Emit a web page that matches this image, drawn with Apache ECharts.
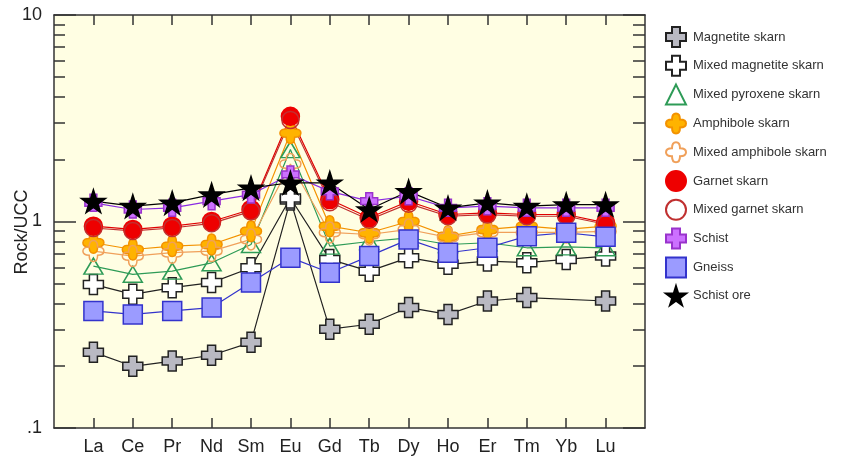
<!DOCTYPE html>
<html>
<head>
<meta charset="utf-8">
<script src="https://cdn.jsdelivr.net/npm/echarts@6/dist/echarts.min.js"></script>
<style>
html,body{margin:0;padding:0;background:#fff;}
#chart{width:846px;height:461px;}
</style>
</head>
<body>
<div id="chart"></div>
<script>
const categories = ['La','Ce','Pr','Nd','Sm','Eu','Gd','Tb','Dy','Ho','Er','Tm','Yb','Lu'];
const yMajorTicks = [0.1, 1, 10];
const yMinorTicks = [0.2,0.3,0.4,0.5,0.6,0.7,0.8,0.9,2,3,4,5,6,7,8,9];

const magnetiteSkarn      = [0.233,0.199,0.211,0.225,0.260,1.27,0.301,0.318,0.383,0.355,0.412,0.428,null,0.412];
const mixedMagnetiteSkarn = [0.496,0.444,0.478,0.506,0.597,1.30,0.655,0.575,0.668,0.620,0.643,0.632,0.655,0.680];
const mixedPyroxeneSkarn  = [0.608,0.555,0.575,0.631,0.774,2.23,0.760,0.800,0.834,0.774,0.789,0.746,0.754,0.746];
const amphiboleSkarn      = [0.789,0.732,0.760,0.774,0.898,2.68,0.949,0.882,1.000,0.849,0.915,0.949,0.915,0.949];
const mixedAmphiboleSkarn = [0.719,0.680,0.706,0.719,0.819,1.90,0.885,0.865,0.915,0.837,0.885,0.885,0.885,0.895];
const garnetSkarn         = [0.949,0.915,0.949,1.000,1.143,3.23,1.277,1.042,1.254,1.081,1.101,1.081,1.081,0.985];
const mixedGarnetSkarn    = [0.930,0.900,0.930,0.980,1.120,3.10,1.240,1.020,1.220,1.060,1.080,1.060,1.060,0.970];
const schist              = [1.231,1.143,1.165,1.254,1.350,1.69,1.400,1.254,1.325,1.165,1.186,1.165,1.165,1.165];
const gneiss              = [0.369,0.355,0.369,0.383,0.506,0.668,0.565,0.680,0.819,0.706,0.746,0.849,0.882,0.843];
const schistOre           = [1.254,1.186,1.231,1.350,1.455,1.54,1.538,1.143,1.400,1.165,1.231,1.186,1.208,1.208];

const PLUS = 'path://M30,0 H70 V30 H100 V70 H70 V100 H30 V70 H0 V30 H30 Z';
const FLOWER = 'path://M50,0 C68,0 70,18 70,30 C82,30 100,32 100,50 C100,68 82,70 70,70 C70,82 68,100 50,100 C32,100 30,82 30,70 C18,70 0,68 0,50 C0,32 18,30 30,30 C30,18 32,0 50,0 Z';
const STAR = 'path://M50,0 L61,35 L98,35 L68,57 L79,91 L50,70 L21,91 L32,57 L2,35 L39,35 Z';

const seriesDefs = [
  {name:'Magnetite skarn', values:magnetiteSkarn, symbol:PLUS, size:20, fill:'#b9b9c2', border:'#222', line:'#222'},
  {name:'Mixed magnetite skarn', values:mixedMagnetiteSkarn, symbol:PLUS, size:20, fill:'#ffffff', border:'#222', line:'#222'},
  {name:'Mixed pyroxene skarn', values:mixedPyroxeneSkarn, symbol:'triangle', size:[19,16], fill:'rgba(255,255,255,0)', border:'#2e9b57', line:'#2e9b57'},
  {name:'Amphibole skarn', values:amphiboleSkarn, symbol:FLOWER, size:21, fill:'#ffb300', border:'#f39200', line:'#f39200'},
  {name:'Mixed amphibole skarn', values:mixedAmphiboleSkarn, symbol:FLOWER, size:21, fill:'rgba(255,255,255,0)', border:'#f0a05a', line:'#f0a05a'},
  {name:'Garnet skarn', values:garnetSkarn, symbol:'circle', size:18, fill:'#ee0000', border:'#ee0000', line:'#e00000'},
  {name:'Mixed garnet skarn', values:mixedGarnetSkarn, symbol:'circle', size:17, fill:'rgba(255,255,255,0)', border:'#c03030', line:'#c03030'},
  {name:'Schist', values:schist, symbol:PLUS, size:17, fill:'#cc70ff', border:'#9933cc', line:'#8a2be2'},
  {name:'Gneiss', values:gneiss, symbol:'rect', size:19, fill:'#9b9bff', border:'#3333cc', line:'#3333cc'},
  {name:'Schist ore', values:schistOre, symbol:STAR, size:24, fill:'#000000', border:'#000000', line:'#000000'}
];

const chart = echarts.init(document.getElementById('chart'), null, {renderer:'canvas'});

const FONT = 'Liberation Sans, Arial, sans-serif';
const yBase = {type:'log', logBase:10, min:0.1, max:10, splitLine:{show:false}, minorTick:{show:false}};
const yAxes = [
  Object.assign({}, yBase, {position:'left',
    axisLine:{show:true, onZero:false, lineStyle:{color:'#333', width:1.5}},
    axisTick:{show:true, inside:true, length:22, customValues:yMajorTicks, lineStyle:{color:'#333', width:1.5}},
    axisLabel:{show:true, customValues:yMajorTicks, margin:12, color:'#222', fontSize:18, fontFamily:FONT,
      formatter:function(v){ return v < 0.5 ? '.1' : String(Math.round(v)); }}}),
  Object.assign({}, yBase, {position:'left',
    axisLine:{show:false, onZero:false},
    axisTick:{show:true, inside:true, length:11, customValues:yMinorTicks, lineStyle:{color:'#333', width:1.5}},
    axisLabel:{show:false}}),
  Object.assign({}, yBase, {position:'right',
    axisLine:{show:true, onZero:false, lineStyle:{color:'#333', width:1.5}},
    axisTick:{show:true, inside:true, length:22, customValues:yMajorTicks, lineStyle:{color:'#333', width:1.5}},
    axisLabel:{show:false}}),
  Object.assign({}, yBase, {position:'right',
    axisLine:{show:false, onZero:false},
    axisTick:{show:true, inside:true, length:12, customValues:yMinorTicks, lineStyle:{color:'#333', width:1.5}},
    axisLabel:{show:false}})
];

const catIdx = categories.map(function(c,i){return i;});
const xBase = {type:'value', min:-1, max:14, splitLine:{show:false}};
const xAxes = [
  Object.assign({}, xBase, {position:'bottom',
    axisLine:{show:true, onZero:false, lineStyle:{color:'#333', width:1.5}},
    axisTick:{show:true, inside:true, length:10, customValues:catIdx, lineStyle:{color:'#333', width:1.5}},
    axisLabel:{show:true, customValues:catIdx, margin:10, color:'#222', fontSize:18, fontFamily:FONT,
      formatter:function(v){ const i = Math.round(v); return categories[i] || ''; }}}),
  Object.assign({}, xBase, {position:'top',
    axisLine:{show:true, onZero:false, lineStyle:{color:'#333', width:1.5}},
    axisTick:{show:true, inside:true, length:10, customValues:catIdx, lineStyle:{color:'#333', width:1.5}},
    axisLabel:{show:false}})
];

const series = seriesDefs.map(function(d){
  return {
    name:d.name, type:'line', xAxisIndex:0, yAxisIndex:0,
    data:d.values.map(function(v,i){ return [i, v]; }),
    connectNulls:true,
    symbol:d.symbol, symbolSize:d.size, symbolKeepAspect:true, showSymbol:true,
    lineStyle:{color:d.line, width:1.2},
    itemStyle:{color:d.fill, borderColor:d.border, borderWidth:1.5},
    emphasis:{disabled:true}
  };
});

const legendData = seriesDefs.map(function(d){ return {name:d.name, icon:d.symbol}; });

chart.setOption({
  animation:false,
  backgroundColor:'#ffffff',
  grid:{left:54, right:201, top:15, bottom:33, show:true, backgroundColor:'#fffee3', borderColor:'#333', borderWidth:0},
  xAxis:xAxes,
  yAxis:yAxes,
  legend:{
    orient:'vertical', left:660, top:21,
    itemWidth:20, itemHeight:20, itemGap:6.8, symbolKeepAspect:true,
    data:legendData,
    textStyle:{color:'#333', fontSize:13, fontFamily:FONT, padding:[0,0,0,2]},
    selectedMode:false
  },
  graphic:[{
    type:'text', rotation:Math.PI/2, x:22, y:232,
    style:{text:'Rock/UCC', fontSize:18, fill:'#222', fontFamily:FONT, align:'center', verticalAlign:'middle'}
  }],
  series:series
});
</script>
</body>
</html>
